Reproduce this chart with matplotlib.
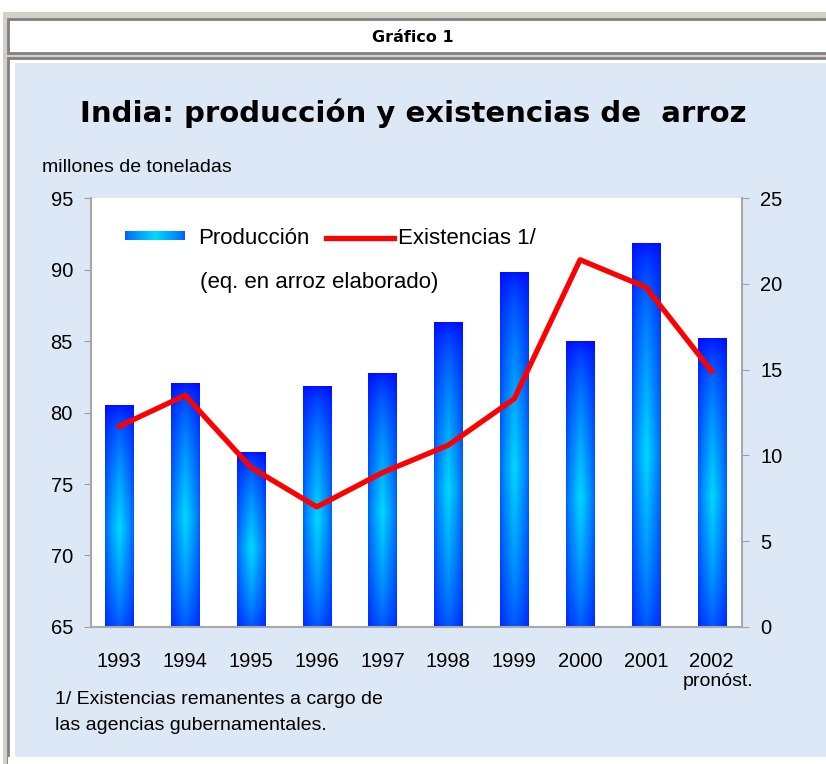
import matplotlib
matplotlib.use("Agg")
import matplotlib.pyplot as plt
from matplotlib.patches import Rectangle
import numpy as np

# datos
years = ["1993", "1994", "1995", "1996", "1997", "1998", "1999", "2000", "2001", "2002"]
produccion = [80.5, 82.0, 77.2, 81.8, 82.7, 86.3, 89.8, 85.0, 91.8, 85.2]
existencias = [11.7, 13.5, 9.3, 7.0, 9.0, 10.6, 13.3, 21.4, 19.8, 14.9]
left_ticks = [65, 70, 75, 80, 85, 90, 95]
right_ticks = [0, 5, 10, 15, 20, 25]

W, H = 826, 764
FONT = ["Liberation Sans", "DejaVu Sans"]
plt.rcParams["font.family"] = FONT


def fx(x):
    return x / W


def fy(y):
    return 1 - y / H


fig = plt.figure(figsize=(W / 100, H / 100), dpi=100)
fig.patch.set_facecolor("white")

# marco de tabla
fig.patches.append(Rectangle((fx(3), fy(H + 10)), 1, fy(12) - fy(H + 10), transform=fig.transFigure,
                             facecolor="#d4d0c8", edgecolor="none", zorder=0))
for top, bot in [(19, 53), (58, H + 10)]:
    fig.patches.append(Rectangle((fx(8), fy(bot)), 1, fy(top) - fy(bot), transform=fig.transFigure,
                                 facecolor="white", edgecolor="#808080", linewidth=2, zorder=1))
fig.patches.append(Rectangle((fx(15), fy(757)), 1, fy(63) - fy(757), transform=fig.transFigure,
                             facecolor="#dde8f6", edgecolor="none", zorder=2))
fig.patches.append(Rectangle((fx(8), fy(H)), 1, fy(757) - fy(H), transform=fig.transFigure,
                             facecolor="white", edgecolor="none", zorder=2))

fig.text(fx(413), fy(37), "Gráfico 1", ha="center", va="center", fontsize=11.5, fontweight="bold",
         family=["DejaVu Sans"])
fig.text(fx(413), fy(113), "India: producción y existencias de  arroz", ha="center", va="center",
         fontsize=21, fontweight="bold", family=["DejaVu Sans"])
fig.text(fx(42), fy(168), "millones de toneladas", ha="left", va="center", fontsize=14)

# ejes
ax = fig.add_axes([fx(91), fy(627), fx(742) - fx(91), fy(198) - fy(627)])
ax.set_zorder(3)
ax.set_facecolor("white")
ax.set_yticks(left_ticks)
ax.set_xticks(range(len(years)))
ax.set_xticklabels(years)
ax.tick_params(axis="y", length=5, color="#a0a0a0", labelsize=14.5, pad=8)
ax.tick_params(axis="x", length=0, labelsize=14.5, pad=18)
for s in ["top", "right"]:
    ax.spines[s].set_visible(False)
for s in ["left", "bottom"]:
    ax.spines[s].set_color("#a8a8a8")
    ax.spines[s].set_linewidth(1.5)

# gradiente de las barras
nx, ny = 40, 160
gx = 1 - np.abs(np.linspace(-1, 1, nx))
yy = np.linspace(0, 1, ny)
gy = np.clip(1 - np.abs(yy - 0.45) / 0.56, 0, 1)
t = (0.45 + 0.55 * gx[None, :] ** 0.8) * gy[:, None] ** 0.55
blue = np.array([0.0, 0.0, 1.0])
cyan = np.array([0.0, 0.85, 1.0])
grad = blue[None, None, :] + (cyan - blue)[None, None, :] * t[:, :, None]

bw = 0.43
for i, v in enumerate(produccion):
    ax.imshow(grad, extent=[i - bw / 2, i + bw / 2, 65, v], origin="lower", aspect="auto",
              interpolation="bilinear", zorder=2)
ax.set_xlim(-0.43, 9.46)
ax.set_ylim(65, 95)

ax2 = ax.twinx()
ax2.set_ylim(0, 25)
ax2.set_yticks(right_ticks)
ax2.plot(range(len(years)), existencias, color="#ff0000", linewidth=3.8, solid_joinstyle="round", zorder=4)
ax2.tick_params(axis="y", length=5, color="#a0a0a0", labelsize=14.5, pad=8)
for s in ["top", "left", "bottom"]:
    ax2.spines[s].set_visible(False)
ax2.spines["right"].set_color("#a8a8a8")
ax2.spines["right"].set_linewidth(1.5)

# leyenda manual
lax = fig.add_axes([fx(125), fy(240), fx(185) - fx(125), fy(231) - fy(240)])
lax.set_zorder(5)
row = grad[int(ny * 0.45)][None, :, :].repeat(2, axis=0)
lax.imshow(row, aspect="auto", interpolation="bilinear")
lax.axis("off")
fig.text(fx(198), fy(238), "Producción", ha="left", va="center", fontsize=16, zorder=6)
fig.add_artist(plt.Line2D([fx(326), fx(394)], [fy(238), fy(238)], color="#ff0000", linewidth=3.8,
                          transform=fig.transFigure, zorder=6))
fig.text(fx(398), fy(238), "Existencias 1/", ha="left", va="center", fontsize=16, zorder=6)
fig.text(fx(200), fy(283), "(eq. en arroz elaborado)", ha="left", va="center", fontsize=16, zorder=6)

fig.text(fx(753), fy(681), "pronóst.", ha="right", va="center", fontsize=14)
fig.text(fx(55), fy(700), "1/ Existencias remanentes a cargo de", ha="left", va="center", fontsize=14)
fig.text(fx(55), fy(726), "las agencias gubernamentales.", ha="left", va="center", fontsize=14)

fig.savefig("out.png", dpi=100)
